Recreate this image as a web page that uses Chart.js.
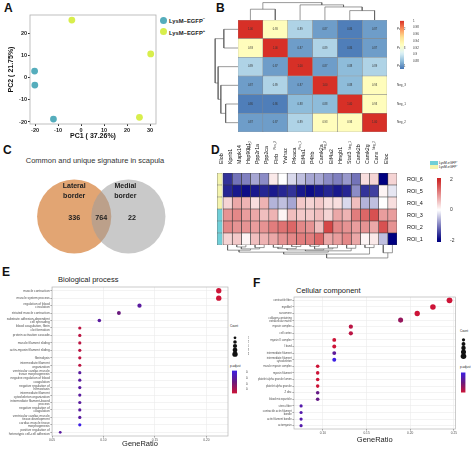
<!DOCTYPE html>
<html>
<head>
<meta charset="utf-8">
<script src="https://cdn.jsdelivr.net/npm/chart.js@4/dist/chart.umd.min.js"></script>
<style>
  body { margin: 0; background: #fff; width: 474px; height: 449px; position: relative; overflow: hidden;
         font-family: "Liberation Sans", Arial, sans-serif; }
  canvas { position: absolute; }
  .t { position: absolute; white-space: nowrap; line-height: 1; color: #222; }
  .letter { font-weight: bold; font-size: 12px; color: #111; }
  .dot { position: absolute; border-radius: 50%; }
  .sw { position: absolute; }
</style>
</head>
<body>
<div class="t letter" style="left:4px;top:1.5px">A</div>
<div class="t letter" style="left:216px;top:1.5px">B</div>
<div class="t letter" style="left:3px;top:143.5px">C</div>
<div class="t letter" style="left:211px;top:143.5px">D</div>
<div class="t letter" style="left:2px;top:266px">E</div>
<div class="t letter" style="left:253px;top:276.5px">F</div>

<!-- A legend -->
<div class="dot" style="left:160px;top:16.5px;width:7px;height:7px;background:#55adbc"></div>
<div class="t" style="left:169px;top:17px;font-size:5.8px;font-weight:bold">LysM−EGFP<sup style="font-size:4px">−</sup></div>
<div class="dot" style="left:160px;top:28px;width:7px;height:7px;background:#d8ee4c"></div>
<div class="t" style="left:169px;top:28.5px;font-size:5.8px;font-weight:bold">LysM−EGFP<sup style="font-size:4px">+</sup></div>

<!-- C title -->
<div class="t" style="left:20px;top:155.7px;width:150px;text-align:center;font-size:7.5px;line-height:9.6px;color:#333;white-space:normal">Common and unique signature in scapula</div>

<!-- D legend -->
<div class="sw" style="left:430px;top:161px;width:8px;height:3.5px;background:#70cfd8"></div>
<div class="t" style="left:439px;top:161px;font-size:3.3px">LysM-eGFP<sup style="font-size:2.4px">−</sup></div>
<div class="sw" style="left:430px;top:165px;width:8px;height:3.5px;background:#f4f4ae"></div>
<div class="t" style="left:439px;top:165px;font-size:3.3px">LysM-eGFP<sup style="font-size:2.4px">+</sup></div>

<!-- E / F titles and legend titles -->
<div class="t" style="left:58px;top:275.5px;font-size:7.5px">Biological process</div>
<div class="t" style="left:296px;top:286.5px;font-size:7.5px">Cellular component</div>
<div class="t" style="left:230px;top:325px;font-size:3px">Count</div>
<div class="t" style="left:230px;top:364.5px;font-size:3px">p.adjust</div>
<div class="t" style="left:460px;top:330px;font-size:3px">Count</div>
<div class="t" style="left:460px;top:366px;font-size:3px">p.adjust</div>

<script>
// ---------- A: PCA ----------
const pcaNegPC1 = [-20.2, -20.1, -12.0];
const pcaNegPC2 = [2.9, -3.4, -18.7];
const pcaPosPC1 = [-4.0, 30.3, 25.4];
const pcaPosPC2 = [25.8, 10.6, -17.9];

// ---------- B: sample correlation ----------
const corrSamples = ['Pos_2', 'Pos_3', 'Pos_1', 'Neg_3', 'Neg_1', 'Neg_2'];
const corrPos2 = [1.00, 0.93, 0.89, 0.87, 0.86, 0.87];
const corrPos3 = [0.93, 1.00, 0.87, 0.89, 0.86, 0.87];
const corrPos1 = [0.89, 0.87, 1.00, 0.87, 0.88, 0.89];
const corrNeg3 = [0.87, 0.89, 0.87, 1.00, 0.88, 0.93];
const corrNeg1 = [0.86, 0.86, 0.88, 0.88, 1.00, 0.93];
const corrNeg2 = [0.87, 0.87, 0.89, 0.93, 0.93, 1.00];
const corrTicks = [0.88, 0.9, 0.92, 0.94, 0.96, 0.98, 1];
// merges: [nodeA, nodeB, height]; nodes >= 6 are earlier merges
const corrTree = [[0, 1, 0.62], [4, 5, 0.54], [3, 7, 0.75], [2, 8, 0.87], [6, 9, 1.0]];

// ---------- C: Venn ----------
const vennSets = ['Lateral border', 'Medial border'];
const vennCounts = [336, 764, 22]; // lateral only, shared, medial only

// ---------- D: protein heatmap ----------
const genes = ['Elob', 'Kpnb1', 'Mapk14', 'Hsp90b1', 'Ppp2r1a', 'Ppp2ca', 'Flnb', 'Ywhaz', 'Prkaca', 'Eif4a1',
  'P4hb', 'Camk2a', 'Eif4a2', 'Hmgb1', 'Stat3', 'Camk2b', 'Camk2g', 'Canx', 'Eloc'];
const rois = ['ROI_6', 'ROI_5', 'ROI_4', 'ROI_3', 'ROI_2', 'ROI_1'];
const roiGroup = ['pos', 'pos', 'pos', 'neg', 'neg', 'neg'];
const roi6 = [-1.6, -1.1, -1.0, -0.7, -0.9, 0.2, 0.0, -0.3, -0.5, -0.7, -0.7, -0.9, -1.0, -0.8, -1.1, 0.3, 0.4, -2.0, 0.4];
const roi5 = [-1.7, -1.8, -1.9, -1.8, -1.7, -1.8, -1.7, -1.6, -1.8, -1.9, -1.8, -1.7, -1.8, -1.7, -0.9, -1.6, -1.5, 0.1, -0.2];
const roi4 = [0.4, 0.8, 0.7, 0.3, 0.7, -0.6, -0.5, -0.7, 0.5, 0.4, 0.5, 0.3, 0.3, -0.3, 0.6, -0.6, -0.5, 0.0, 0.3];
const roi3 = [1.0, 1.1, 0.9, 0.8, 0.6, 0.7, 0.1, 0.6, 0.5, 0.5, 0.6, 0.4, 0.8, 0.7, 1.2, 1.4, 1.6, 0.9, 0.9];
const roi2 = [1.1, 1.0, 1.0, 0.9, 1.0, 1.2, 1.3, 1.4, 1.1, 1.0, 0.6, 1.7, 1.1, 1.0, 0.9, 1.0, 0.8, 1.6, 1.0];
const roi1 = [0.4, 0.5, 0.1, 0.6, 0.7, 0.8, 1.0, 1.1, 1.2, 1.2, 1.4, 0.8, 0.9, 1.1, 0.8, 0.1, 0.2, -0.5, -2.0];
const geneTree = [[1, 2, 0.15], [3, 4, 0.2], [19, 20, 0.3], [0, 21, 0.4], [5, 6, 0.18], [7, 8, 0.12], [23, 24, 0.28],
  [9, 10, 0.1], [11, 12, 0.22], [26, 27, 0.3], [25, 28, 0.38], [13, 14, 0.25], [29, 30, 0.45], [22, 31, 0.55],
  [15, 16, 0.2], [32, 33, 0.7], [17, 18, 0.6], [34, 35, 1.0]];

// ---------- E: GO biological process ----------
const bpTerms = ['muscle contraction', 'muscle system process', ['regulation of blood', 'circulation'],
  'striated muscle contraction', ['substrate adhesion-dependent', 'cell spreading'],
  ['blood coagulation, fibrin', 'clot formation'], 'protein activation cascade', 'muscle filament sliding',
  'actin-myosin filament sliding', 'fibrinolysis', ['intermediate filament', 'organization'],
  ['ventricular cardiac muscle', 'tissue morphogenesis'], ['negative regulation of blood', 'coagulation'],
  ['negative regulation of', 'hemostasis'], ['intermediate filament', 'cytoskeleton organization'],
  ['intermediate filament-based', 'process'], ['negative regulation of', 'coagulation'],
  ['ventricular cardiac muscle', 'tissue development'], ['cardiac muscle tissue', 'morphogenesis'],
  ['positive regulation of', 'heterotypic cell-cell adhesion']];
const bpRatio = [0.212, 0.212, 0.135, 0.115, 0.096, 0.077, 0.077, 0.077, 0.077, 0.077, 0.077, 0.077, 0.077,
  0.077, 0.077, 0.077, 0.077, 0.077, 0.077, 0.058];
const bpCount = [11, 11, 7, 6, 5, 4, 4, 4, 4, 4, 4, 4, 4, 4, 4, 4, 4, 4, 4, 3];
const bpPadj = [0.0001, 0.0001, 0.0009, 0.0007, 0.0009, 0.0002, 0.0002, 0.0002, 0.0002, 0.0002, 0.0002,
  0.0009, 0.0009, 0.0009, 0.0009, 0.0009, 0.0009, 0.0009, 0.0013, 0.0009];
const bpCountLegend = [3, 5, 7, 9, 11];
const bpPadjTicks = [0.0003, 0.0006, 0.0009, 0.0012];

// ---------- F: GO cellular component ----------
const ccTerms = ['contractile fiber', 'myofibril', 'sarcomere', ['collagen-containing', 'extracellular matrix'],
  'myosin complex', 'cell cortex', 'myosin II complex', 'I band', 'intermediate filament',
  ['intermediate filament', 'cytoskeleton'], 'muscle myosin complex', 'myosin filament',
  'platelet alpha granule lumen', 'platelet alpha granule', 'Z disc', 'blood microparticle', 'stress fiber',
  ['contractile actin filament', 'bundle'], 'actin filament bundle', 'actomyosin'];
const ccRatio = [0.245, 0.226, 0.208, 0.189, 0.132, 0.132, 0.113, 0.113, 0.113, 0.113, 0.094, 0.094, 0.094,
  0.094, 0.094, 0.094, 0.075, 0.075, 0.075, 0.075];
const ccCount = [13, 12, 11, 10, 7, 7, 6, 6, 6, 6, 5, 5, 5, 5, 5, 5, 4, 4, 4, 4];
const ccPadj = [0.0002, 0.0002, 0.0002, 0.0005, 0.0003, 0.0003, 0.0002, 0.0002, 0.0009, 0.0013, 0.0002,
  0.0002, 0.0002, 0.0002, 0.0008, 0.0008, 0.0010, 0.0010, 0.0010, 0.0010];
const ccCountLegend = [4, 6, 8, 10, 12];
const ccPadjTicks = [0.0004, 0.0008, 0.0012];

// ---------- helpers ----------
const FONT = '"Liberation Sans", Arial, sans-serif';
Chart.defaults.font.family = FONT;
Chart.defaults.color = '#222';
Chart.defaults.animation = false;
Chart.defaults.responsive = false;
Chart.defaults.devicePixelRatio = 1;
Chart.defaults.events = [];
Chart.defaults.plugins.legend.display = false;
Chart.defaults.plugins.tooltip.enabled = false;

function cv(left, top, w, h) {
  const c = document.createElement('canvas');
  c.width = w; c.height = h;
  c.style.left = left + 'px'; c.style.top = top + 'px';
  document.body.appendChild(c);
  return c;
}
function box(w, h) {
  return s => { if (w !== null) s.width = w; if (h !== null) s.height = h; };
}
function hex(h) { return [1, 3, 5].map(i => parseInt(h.slice(i, i + 2), 16)); }
function ramp(stops, t) {
  t = Math.max(0, Math.min(1, t));
  const s = t * (stops.length - 1);
  const i = Math.min(Math.floor(s), stops.length - 2);
  const f = s - i;
  const a = stops[i], b = stops[i + 1];
  return 'rgb(' + a.map((v, k) => Math.round(v + (b[k] - v) * f)).join(',') + ')';
}
const rdylbu = ['#4575B4', '#91BFDB', '#E0F3F8', '#FFFFBF', '#FEE090', '#FC8D59', '#D73027'].map(hex);
const corrMin = 0.857, corrMax = 1.0;
const corrColor = v => ramp(rdylbu, (v - corrMin) / (corrMax - corrMin));
const nwr = [[0, 0, 128], [255, 255, 255], [205, 38, 38]];
const exprColor = v => ramp(nwr, (v + 2) / 4);
const padjStops = [[205, 20, 55], [105, 25, 125], [60, 30, 228]];
const padjColor = (lo, hi) => p => ramp(padjStops, (p - lo) / (hi - lo));
const sizeOf = c => 0.8 * Math.sqrt(c);

// frame around chart area
Chart.register({
  id: 'frame',
  afterDraw(chart, args, opts) {
    if (!opts.color) return;
    const { ctx, chartArea: a } = chart;
    ctx.save();
    ctx.strokeStyle = opts.color;
    ctx.lineWidth = opts.width || 1;
    ctx.strokeRect(a.left, a.top, a.right - a.left, a.bottom - a.top);
    ctx.restore();
  }
});
// numbers inside heatmap cells
Chart.register({
  id: 'cellText',
  afterDatasetsDraw(chart, args, opts) {
    if (!opts.rows) return;
    const { ctx, scales: { x, y } } = chart;
    ctx.save();
    ctx.font = '2.6px ' + FONT;
    ctx.fillStyle = '#333';
    ctx.textAlign = 'center';
    ctx.textBaseline = 'middle';
    opts.rows.forEach((row, i) => row.forEach((v, j) => {
      ctx.fillText(v.toFixed(2), x.getPixelForValue(j + 0.5), y.getPixelForValue(i));
    }));
    ctx.restore();
  }
});

function dendroSegments(n, merges) {
  const pos = [], hgt = [], segs = [];
  for (let i = 0; i < n; i++) { pos.push(i + 0.5); hgt.push(0); }
  merges.forEach(([a, b, h]) => {
    segs.push([[pos[a], hgt[a]], [pos[a], h], [pos[b], h], [pos[b], hgt[b]]]);
    pos.push((pos[a] + pos[b]) / 2);
    hgt.push(h);
  });
  return segs;
}
function dendroChart(left, top, w, h, n, merges, side, hMax) {
  const vertical = side === 'top' || side === 'bottom';
  const datasets = dendroSegments(n, merges).map(s => ({
    data: s.map(([p, hh]) => vertical ? { x: p, y: hh } : { x: hh, y: p }),
    showLine: true, pointRadius: 0, borderColor: '#555', borderWidth: 0.6, fill: false
  }));
  const posAxis = { display: false, type: 'linear', min: 0, max: n, reverse: !vertical };
  const hAxis = { display: false, type: 'linear', min: 0, max: hMax, reverse: side === 'bottom' || side === 'left' };
  return new Chart(cv(left, top, w, h), {
    type: 'scatter',
    data: { datasets },
    options: {
      layout: { padding: 0 },
      scales: vertical ? { x: posAxis, y: hAxis } : { x: hAxis, y: posAxis }
    }
  });
}
function colorbarChart(left, top, w, h, o) {
  return new Chart(cv(left, top, w, h), {
    type: 'bar',
    data: {
      labels: [''],
      datasets: [{
        data: [[o.min, o.max]], barPercentage: 1, categoryPercentage: 1, borderWidth: 0,
        backgroundColor: c => {
          const a = c.chart.chartArea;
          if (!a) return 'transparent';
          const g = c.chart.ctx.createLinearGradient(0, a.bottom, 0, a.top);
          for (let k = 0; k <= 20; k++) g.addColorStop(k / 20, o.color(o.min + (o.max - o.min) * k / 20));
          return g;
        }
      }]
    },
    options: {
      layout: { padding: { top: o.padTop, bottom: o.padBottom, left: 0, right: 0 } },
      scales: {
        x: { display: false },
        y: {
          position: 'right', min: o.min, max: o.max, afterFit: box(o.axisW, null),
          afterBuildTicks: s => { s.ticks = o.ticks.map(v => ({ value: v })); },
          ticks: { callback: o.fmt, font: { size: o.font }, padding: 1, color: '#333' },
          grid: { display: false }, border: { display: false }
        }
      }
    }
  });
}
function sizeLegend(left, top, w, h, counts, axisW) {
  return new Chart(cv(left, top, w, h), {
    type: 'scatter',
    data: { datasets: [{ data: counts.map((c, i) => ({ x: 0.5, y: i })), pointRadius: counts.map(sizeOf),
      backgroundColor: '#111', borderWidth: 0 }] },
    options: {
      layout: { padding: 0, autoPadding: false },
      scales: {
        x: { display: false, min: 0, max: 1 },
        y: { type: 'category', labels: counts.map(String), offset: true, position: 'right',
          afterFit: box(axisW, null), ticks: { font: { size: 3 }, padding: 1, color: '#333', autoSkip: false },
          grid: { display: false }, border: { display: false } }
      }
    }
  });
}
function dotPlot(left, top, w, h, o) {
  const color = padjColor(o.pmin, o.pmax);
  return new Chart(cv(left, top, w, h), {
    type: 'scatter',
    data: { datasets: [{
      data: o.ratio.map((x, i) => ({ x, y: i })),
      pointRadius: o.count.map(sizeOf),
      backgroundColor: o.padj.map(color), borderWidth: 0
    }] },
    options: {
      layout: { padding: o.pad, autoPadding: false },
      scales: {
        x: {
          type: 'linear', min: o.xmin, max: o.xmax, afterFit: box(null, o.xH),
          ticks: { stepSize: 0.05, includeBounds: false, callback: v => v.toFixed(2), font: { size: 3.2 },
            padding: 1, color: '#4d4d4d', maxRotation: 0 },
          grid: { color: '#ebebeb', lineWidth: 0.6, tickLength: 1.5, tickColor: '#555' },
          border: { display: false },
          title: { display: true, text: 'GeneRatio', font: { size: 7.5 }, color: '#222',
            padding: { top: 0, bottom: o.titlePad } }
        },
        y: {
          type: 'category', labels: o.terms, offset: true, afterFit: box(o.yW, null),
          ticks: { autoSkip: false, font: { size: o.labelSize, lineHeight: 1.05 }, padding: 0.8, color: '#4d4d4d' },
          grid: { color: '#ebebeb', lineWidth: 0.6, tickLength: 1.5, tickColor: '#555' },
          border: { display: false }
        }
      },
      plugins: { frame: { color: '#b5b5b5', width: 0.7 } }
    }
  });
}

// ---------- A ----------
new Chart(cv(0, 0, 160, 145), {
  type: 'scatter',
  data: { datasets: [
    { data: pcaNegPC1.map((x, i) => ({ x, y: pcaNegPC2[i] })), backgroundColor: '#55adbc', pointRadius: 3.4, borderWidth: 0 },
    { data: pcaPosPC1.map((x, i) => ({ x, y: pcaPosPC2[i] })), backgroundColor: '#d8ee4c', pointRadius: 3.4, borderWidth: 0 }
  ] },
  options: {
    layout: { padding: { left: 0, top: 15, right: 4, bottom: 0 }, autoPadding: false },
    scales: {
      x: {
        type: 'linear', min: -22.2, max: 32.6, afterFit: box(null, 21),
        ticks: { stepSize: 10, includeBounds: false, font: { size: 5.5, weight: 'bold' }, padding: 1, color: '#222', maxRotation: 0 },
        grid: { drawOnChartArea: false, tickLength: 2, color: '#333' }, border: { display: false },
        title: { display: true, text: 'PC1 ( 37.26%)', font: { size: 7, weight: 'bold' }, color: '#111', padding: { top: 0, bottom: 4.8 } }
      },
      y: {
        type: 'linear', min: -20.9, max: 28.1, afterFit: box(30, null),
        ticks: { stepSize: 10, includeBounds: false, font: { size: 5.5, weight: 'bold' }, padding: 1, color: '#222' },
        grid: { drawOnChartArea: false, tickLength: 2, color: '#333' }, border: { display: false },
        title: { display: true, text: 'PC2 ( 21.75%)', font: { size: 7, weight: 'bold' }, color: '#111', padding: { top: 6.5, bottom: 0 } }
      }
    },
    plugins: { frame: { color: '#b0b0b0', width: 0.8 } }
  }
});

// ---------- B ----------
const corrRows = [corrPos2, corrPos3, corrPos1, corrNeg3, corrNeg1, corrNeg2];
new Chart(cv(230, 0, 244, 150), {
  type: 'bar',
  data: {
    labels: corrSamples,
    datasets: corrSamples.map((s, j) => ({
      data: corrRows.map(() => [j, j + 1]),
      backgroundColor: corrRows.map(r => corrColor(r[j])),
      borderColor: '#888', borderWidth: 0.5, borderSkipped: false, grouped: false,
      barPercentage: 1, categoryPercentage: 1
    }))
  },
  options: {
    indexAxis: 'y',
    layout: { padding: { left: 8, top: 20, right: 67, bottom: 0 } },
    scales: {
      x: {
        type: 'linear', min: 0, max: 6, afterFit: box(null, 18),
        afterBuildTicks: s => { s.ticks = corrSamples.map((_, j) => ({ value: j + 0.5 })); },
        ticks: { callback: (v, i) => corrSamples[i], minRotation: 90, maxRotation: 90, autoSkip: false,
          font: { size: 3 }, padding: 1, color: '#333' },
        grid: { display: false }, border: { display: false }
      },
      y: {
        position: 'right', afterFit: box(20, null),
        ticks: { font: { size: 3 }, padding: 2, color: '#333' },
        grid: { display: false }, border: { display: false }
      }
    },
    plugins: { cellText: { rows: corrRows } }
  }
});
dendroChart(238, 0, 149, 20, 6, corrTree, 'top', 1.15);
dendroChart(214, 20, 24, 112, 6, corrTree, 'left', 1.05);
colorbarChart(400, 18, 20, 54, {
  min: corrMin, max: corrMax, color: corrColor, ticks: corrTicks, fmt: v => String(+v.toFixed(2)),
  axisW: 16, padTop: 2, padBottom: 3, font: 3
});

// ---------- C ----------
const vennCenterX = [0, 1.46];
const vennRadius = 1;
const vennXMin = -2, vennXMax = 4.2;
const vennW = 230;
new Chart(cv(0, 140, vennW, 130), {
  type: 'bubble',
  data: { datasets: [{
    data: vennCenterX.map(x => ({ x, y: 0, r: vennRadius * vennW / (vennXMax - vennXMin) })),
    backgroundColor: ['rgba(202,91,0,0.55)', 'rgba(157,157,157,0.55)'],
    borderWidth: 0,
    clip: false
  }] },
  options: {
    layout: { padding: 0, autoPadding: false },
    scales: { x: { display: false, min: vennXMin, max: vennXMax }, y: { display: false, min: -1.44, max: 2.06 } }
  },
  plugins: [{
    id: 'vennText',
    afterDatasetsDraw(chart) {
      const { ctx, scales: { x, y } } = chart;
      ctx.save();
      ctx.textAlign = 'center';
      ctx.textBaseline = 'middle';
      ctx.fillStyle = '#222';
      ctx.font = 'bold 7px ' + FONT;
      const nameShift = [0, -0.08];
      vennSets.forEach((name, i) => {
        const words = name.split(' ');
        const px = x.getPixelForValue(vennCenterX[i] + nameShift[i]);
        ctx.fillText(words[0], px, y.getPixelForValue(0.82));
        ctx.fillText(words[1], px, y.getPixelForValue(0.55));
      });
      ctx.font = 'bold 7.2px ' + FONT;
      const numX = [vennCenterX[0], (vennCenterX[0] + vennCenterX[1]) / 2, vennCenterX[1] + 0.1];
      vennCounts.forEach((n, i) => ctx.fillText(String(n), x.getPixelForValue(numX[i]), y.getPixelForValue(-0.04)));
      ctx.restore();
    }
  }]
});

// ---------- D ----------
const roiRows = [roi6, roi5, roi4, roi3, roi2, roi1];
const groupColor = { pos: '#f4f4ae', neg: '#70cfd8' };
new Chart(cv(215, 140, 259, 115), {
  type: 'bar',
  data: {
    labels: rois,
    datasets: [{
      data: rois.map(() => [-0.64, -0.1]),
      backgroundColor: roiGroup.map(g => groupColor[g]),
      borderColor: '#666', borderWidth: 0.5, borderSkipped: false, grouped: false,
      barPercentage: 1, categoryPercentage: 1
    }].concat(genes.map((g, j) => ({
      data: roiRows.map(() => [j, j + 1]),
      backgroundColor: roiRows.map(r => exprColor(r[j])),
      borderColor: '#3a3a3a', borderWidth: 0.6, borderSkipped: false, grouped: false,
      barPercentage: 1, categoryPercentage: 1
    })))
  },
  options: {
    indexAxis: 'y',
    layout: { padding: { left: 2, top: 0, right: 47, bottom: 10 } },
    scales: {
      x: {
        type: 'linear', position: 'top', min: -0.66, max: 19, afterFit: box(null, 33),
        afterBuildTicks: s => { s.ticks = genes.map((_, j) => ({ value: j + 0.5 })); },
        ticks: { callback: (v, i) => genes[i], minRotation: 90, maxRotation: 90, autoSkip: false,
          font: { size: 5.3 }, padding: 1, color: '#111' },
        grid: { display: false }, border: { display: false }
      },
      y: {
        position: 'right', afterFit: box(30, null),
        ticks: { font: { size: 5.5 }, padding: 2, color: '#111' },
        grid: { display: false }, border: { display: false }
      }
    }
  }
});
dendroChart(223, 245, 174, 14, 19, geneTree, 'bottom', 1.08);
colorbarChart(437, 174, 18, 72, {
  min: -2.12, max: 2.12, color: exprColor, ticks: [-2, 0, 2], fmt: v => String(v),
  axisW: 14, padTop: 2, padBottom: 2, font: 5
});

// ---------- E ----------
dotPlot(0, 270, 237, 179, {
  terms: bpTerms, ratio: bpRatio, count: bpCount, padj: bpPadj, pmin: 0.0001, pmax: 0.0013,
  xmin: 0.05, xmax: 0.221, pad: { left: 0, top: 17, right: 9, bottom: 0 }, xH: 13, yW: 52,
  titlePad: 1, labelSize: 3.2
});
sizeLegend(231, 333, 18, 26, bpCountLegend, 10);
colorbarChart(232, 368, 16, 28, {
  min: 0.0001, max: 0.0013, color: padjColor(0.0001, 0.0013), ticks: bpPadjTicks, fmt: v => v.toFixed(4),
  axisW: 11, padTop: 2, padBottom: 2, font: 2.6
});

// ---------- F ----------
dotPlot(237, 270, 221, 179, {
  terms: ccTerms, ratio: ccRatio, count: ccCount, padj: ccPadj, pmin: 0.0002, pmax: 0.0013,
  xmin: 0.0669, xmax: 0.2519, pad: { left: 0, top: 27, right: 2, bottom: 0 }, xH: 20, yW: 57,
  titlePad: 4.5, labelSize: 2.7
});
sizeLegend(460, 335, 14, 26, ccCountLegend, 7);
colorbarChart(461, 370, 13, 25, {
  min: 0.0002, max: 0.0013, color: padjColor(0.0002, 0.0013), ticks: ccPadjTicks, fmt: v => v.toFixed(4),
  axisW: 8.5, padTop: 2, padBottom: 2, font: 2.4
});
</script>
</body>
</html>
